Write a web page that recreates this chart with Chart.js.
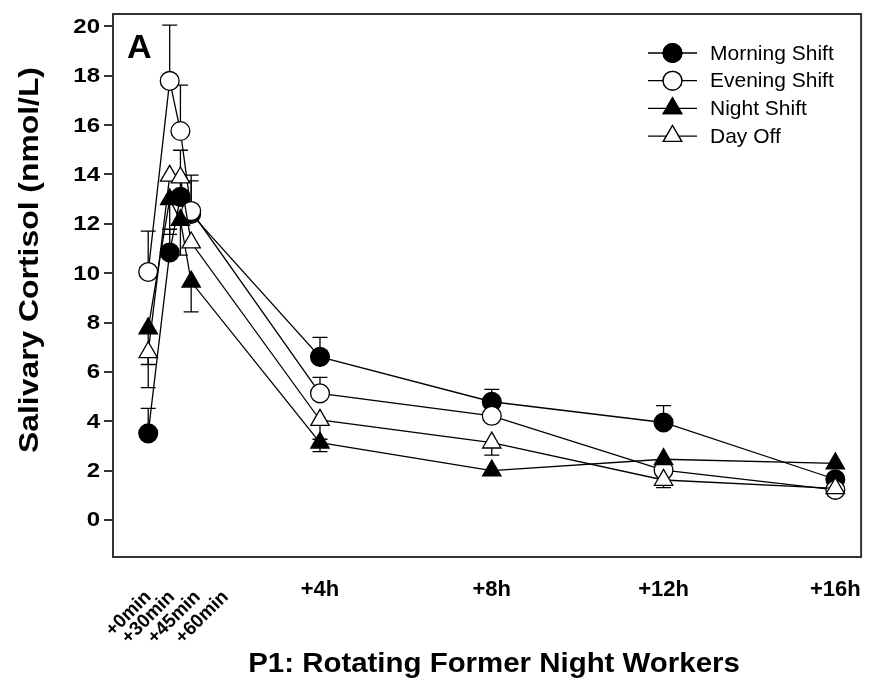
<!DOCTYPE html>
<html>
<head>
<meta charset="utf-8">
<script src="https://cdn.jsdelivr.net/npm/chart.js@4.4.1/dist/chart.umd.min.js"></script>
<style>
  html, body { margin: 0; padding: 0; background: #fff; }
  #wrap { width: 873px; height: 680px; position: relative; }
</style>
</head>
<body>
<div id="wrap"><canvas id="c" width="873" height="680"></canvas></div>
<script>
// Sampling times, in hours after awakening
const hours = [0, 0.5, 0.75, 1, 4, 8, 12, 16];

// Mean salivary cortisol (nmol/L) per shift condition
const morning = [3.51, 10.84, 13.09, 12.4, 6.61, 4.79, 3.95, 1.65];
const evening = [10.05, 17.79, 15.76, 12.52, 5.13, 4.22, 2.02, 1.22];
const night   = [7.76, 12.99, 12.15, 9.65, 3.13, 2.00, 2.46, 2.29];
const dayOff  = [6.79, 13.94, 13.87, 11.24, 4.05, 3.13, 1.62, 1.28];

// Standard errors (one-sided bars: up for morning/evening, down for night/day off)
const morningErr = [1.01, 0.94, 1.89, 1.34, 0.79, 0.50, 0.68, null];
const eveningErr = [1.65, 2.26, 1.86, 1.45, 0.65, null, null, null];
const nightErr   = [1.46, 1.42, 1.42, 1.22, 0.36, null, null, null];
const dayOffErr  = [1.43, null, null, null, 0.78, 0.50, 0.31, 0.30];

// Axis labelling
const yTicks = [0, 2, 4, 6, 8, 10, 12, 14, 16, 18, 20];
const hourLabels = ['+4h', '+8h', '+12h', '+16h'];
const hourLabelAt = [4, 8, 12, 16];
const minuteLabels = ['+0min', '+30min', '+45min', '+60min'];
const minuteLabelAt = [0, 0.55, 1.15, 1.8];

const FONT = '"Liberation Sans", Arial, Helvetica, sans-serif';

const series = [
  { label: 'Morning Shift', values: morning, err: morningErr, dir: 1,  style: 'circle',   fill: '#000' },
  { label: 'Evening Shift', values: evening, err: eveningErr, dir: 1,  style: 'circle',   fill: '#fff' },
  { label: 'Night Shift',   values: night,   err: nightErr,   dir: -1, style: 'triangle', fill: '#000' },
  { label: 'Day Off',       values: dayOff,  err: dayOffErr,  dir: -1, style: 'triangle', fill: '#fff' }
];

const MARK = { circle: 9.4, triangle: 10.6 };

const datasets = series.map((s, k) => ({
  label: s.label,
  data: hours.map((h, i) => ({ x: h, y: s.values[i] })),
  showLine: true,
  borderColor: '#000',
  borderWidth: 1.3,
  pointStyle: s.style,
  pointRadius: MARK[s.style],
  pointHoverRadius: MARK[s.style],
  pointBackgroundColor: s.fill,
  pointBorderColor: '#000',
  pointBorderWidth: 1.3,
  order: series.length - 1 - k,
  errors: s.err,
  errDir: s.dir
}));

// One-sided error bars with caps, drawn beneath the lines and symbols
const errorBars = {
  id: 'errorBars',
  beforeDatasetsDraw(chart) {
    const { ctx, scales: { x, y } } = chart;
    ctx.save();
    ctx.strokeStyle = '#000';
    ctx.lineWidth = 1.3;
    chart.data.datasets.forEach(ds => {
      ds.data.forEach((p, i) => {
        const e = ds.errors[i];
        if (e == null) return;
        const px = x.getPixelForValue(p.x);
        const y0 = y.getPixelForValue(p.y);
        const y1 = y.getPixelForValue(p.y + ds.errDir * e);
        ctx.beginPath();
        ctx.moveTo(px, y0); ctx.lineTo(px, y1);
        ctx.moveTo(px - 7.5, y1); ctx.lineTo(px + 7.5, y1);
        ctx.stroke();
      });
    });
    ctx.restore();
  }
};

// draws text widened horizontally by factor sx
function wideText(ctx, text, x, y, sx) {
  ctx.save();
  ctx.translate(x, y);
  ctx.scale(sx, 1);
  ctx.fillText(text, 0, 0);
  ctx.restore();
}

// Frame, y labels, panel letter, legend, category labels and axis titles
const decorations = {
  id: 'decorations',
  afterDraw(chart) {
    const { ctx, chartArea: a, scales: { x, y } } = chart;
    ctx.save();
    ctx.strokeStyle = '#333';
    ctx.lineWidth = 2;
    ctx.strokeRect(a.left, a.top, a.right - a.left, a.bottom - a.top);

    // y tick labels
    ctx.fillStyle = '#000';
    ctx.font = 'bold 20px ' + FONT;
    ctx.textAlign = 'right';
    ctx.textBaseline = 'middle';
    yTicks.forEach(v => wideText(ctx, String(v), 100, y.getPixelForValue(v) + 1, 1.2));

    ctx.font = 'bold 34px ' + FONT;
    ctx.textAlign = 'left';
    ctx.textBaseline = 'alphabetic';
    ctx.fillText('A', a.left + 14, a.top + 44);

    // legend
    const lx0 = 648, lx1 = 697, lmx = 672.5, ltx = 710;
    series.forEach((s, k) => {
      const ly = 53 + k * 27.7;
      ctx.strokeStyle = '#000';
      ctx.lineWidth = 1.3;
      ctx.beginPath(); ctx.moveTo(lx0, ly); ctx.lineTo(lx1, ly); ctx.stroke();
      Chart.helpers.drawPoint(ctx, {
        pointStyle: s.style, radius: MARK[s.style], borderWidth: 1.3, rotation: 0
      }, lmx, ly);
      ctx.fillStyle = s.fill;
      ctx.fill();
      ctx.stroke();
      ctx.fillStyle = '#000';
      ctx.font = '21px ' + FONT;
      ctx.textAlign = 'left';
      ctx.textBaseline = 'middle';
      ctx.fillText(s.label, ltx, ly + 1);
    });

    // hour labels
    ctx.fillStyle = '#000';
    ctx.font = 'bold 22px ' + FONT;
    ctx.textAlign = 'center';
    ctx.textBaseline = 'middle';
    hourLabels.forEach((t, i) => ctx.fillText(t, x.getPixelForValue(hourLabelAt[i]), 590));

    // slanted minute labels
    ctx.font = 'bold 19px ' + FONT;
    ctx.textAlign = 'right';
    ctx.textBaseline = 'middle';
    minuteLabels.forEach((t, i) => {
      ctx.save();
      ctx.translate(x.getPixelForValue(minuteLabelAt[i]), 594);
      ctx.rotate(-Math.PI / 4);
      ctx.fillText(t, 0, 0);
      ctx.restore();
    });

    // axis titles
    ctx.font = 'bold 27px ' + FONT;
    ctx.textAlign = 'center';
    ctx.textBaseline = 'middle';
    wideText(ctx, 'P1: Rotating Former Night Workers', 494, 665, 1.09);

    ctx.save();
    ctx.translate(31, 260);
    ctx.rotate(-Math.PI / 2);
    ctx.scale(1.18, 1);
    ctx.fillText('Salivary Cortisol (nmol/L)', 0, 0);
    ctx.restore();
    ctx.restore();
  }
};

new Chart(document.getElementById('c'), {
  type: 'scatter',
  data: { datasets },
  options: {
    responsive: false,
    animation: false,
    layout: { padding: { top: 14, right: 6, bottom: 123, left: 0 } },
    plugins: { legend: { display: false }, tooltip: { enabled: false } },
    scales: {
      x: { type: 'linear', min: -0.82, max: 16.6, display: false },
      y: {
        type: 'linear',
        min: -1.5,
        max: 20.5,
        afterBuildTicks: s => { s.ticks = yTicks.map(v => ({ value: v })); },
        afterFit: s => { s.width = 113; },
        border: { display: false },
        grid: { drawOnChartArea: false, drawTicks: true, tickLength: 9, color: '#333', lineWidth: 2 },
        ticks: { display: false }
      }
    }
  },
  plugins: [errorBars, decorations]
});
</script>
</body>
</html>
